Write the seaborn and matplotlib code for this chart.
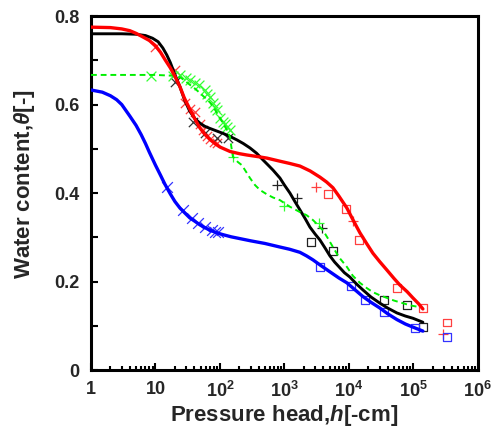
import matplotlib
matplotlib.use("Agg")
import matplotlib.pyplot as plt
import seaborn as sns
import pandas as pd
import numpy as np
from matplotlib.ticker import FixedLocator, FixedFormatter, LogLocator, NullFormatter, MultipleLocator

# ---- fitted curves ----
red_h = [1, 2, 3, 4, 5, 6, 8, 10, 12, 14, 17, 20, 24, 28, 34, 41, 49, 58, 70, 85, 100, 143,
         200, 262, 400, 535, 851, 1200, 1740, 2500, 3550, 4500, 5650, 7000, 9310, 12000,
         14830, 19000, 23550, 30000, 38810, 50000, 61800, 80000, 98200, 120000, 140300]
red_t = [0.775, 0.774, 0.771, 0.767, 0.761, 0.755, 0.745, 0.733, 0.718, 0.702, 0.683, 0.664,
         0.640, 0.615, 0.590, 0.567, 0.547, 0.533, 0.521, 0.511, 0.504, 0.494, 0.489, 0.486,
         0.482, 0.479, 0.472, 0.467, 0.461, 0.450, 0.436, 0.425, 0.412, 0.393, 0.366, 0.335,
         0.310, 0.285, 0.264, 0.245, 0.226, 0.207, 0.192, 0.177, 0.163, 0.150, 0.138]

black_h = [1, 3, 5, 7, 9, 11, 13, 15, 17, 20, 24, 28, 34, 41, 49, 58, 70, 90, 111, 143, 184,
           230, 292, 370, 464, 560, 664, 851, 1000, 1217, 1450, 1740, 2100, 2485, 3000, 3550,
           4300, 5070, 6000, 7250, 8500, 10370, 13000, 16490, 22000, 30270, 40000, 55500,
           75000, 98200, 140300]
black_t = [0.760, 0.760, 0.759, 0.756, 0.750, 0.742, 0.728, 0.712, 0.695, 0.668, 0.640, 0.612,
           0.585, 0.568, 0.558, 0.551, 0.546, 0.540, 0.535, 0.528, 0.520, 0.512, 0.502, 0.490,
           0.475, 0.463, 0.452, 0.434, 0.418, 0.400, 0.381, 0.362, 0.342, 0.323, 0.307, 0.294,
           0.275, 0.258, 0.244, 0.231, 0.220, 0.210, 0.195, 0.181, 0.165, 0.151, 0.140, 0.129,
           0.122, 0.117, 0.108]

green_h = [1, 10, 20, 24, 28, 34, 41, 49, 58, 70, 80, 90, 100, 111, 128, 143, 150, 159, 190,
           219, 262, 292, 350, 417, 535, 664, 851, 1217, 1740, 2200, 2767, 3300, 3951, 4700,
           5650, 7000, 9310, 11500, 14830, 19000, 23550, 30000, 38810, 50000, 68700, 90000,
           126200]
green_t = [0.667, 0.667, 0.665, 0.662, 0.655, 0.645, 0.636, 0.626, 0.616, 0.605, 0.593, 0.581,
           0.570, 0.558, 0.543, 0.527, 0.505, 0.482, 0.470, 0.463, 0.445, 0.434, 0.418, 0.407,
           0.397, 0.390, 0.384, 0.369, 0.357, 0.350, 0.339, 0.328, 0.316, 0.298, 0.278, 0.255,
           0.233, 0.213, 0.197, 0.185, 0.176, 0.169, 0.163, 0.157, 0.151, 0.146, 0.142]

blue_h = [1, 1.5, 2, 2.5, 3, 4, 5, 6, 7, 8, 10, 12, 14, 17, 20, 24, 29, 34, 41, 49, 58, 70,
          90, 111, 150, 204, 300, 500, 851, 1200, 1740, 2200, 2767, 3600, 5070, 7000, 9310,
          12500, 16490, 22000, 30270, 40000, 55500, 75000, 98200, 140300]
blue_t = [0.633, 0.628, 0.620, 0.611, 0.600, 0.574, 0.553, 0.532, 0.512, 0.493, 0.463, 0.440,
          0.420, 0.398, 0.381, 0.366, 0.354, 0.344, 0.336, 0.328, 0.322, 0.316, 0.310, 0.306,
          0.301, 0.297, 0.292, 0.286, 0.278, 0.273, 0.266, 0.258, 0.249, 0.237, 0.222, 0.208,
          0.197, 0.181, 0.166, 0.153, 0.140, 0.127, 0.114, 0.104, 0.097, 0.088]

# ---- measured points ----
red_x_h = [9.8, 20, 28.7, 34.3, 41, 49, 55, 62, 70, 80, 90]
red_x_t = [0.730, 0.678, 0.603, 0.590, 0.583, 0.555, 0.542, 0.530, 0.522, 0.515, 0.513]
red_p_h = [3078, 11530, 286600]
red_p_t = [0.414, 0.337, 0.081]
red_s_h = [4725, 8980, 14290, 55500, 140300, 330700]
red_s_t = [0.398, 0.364, 0.294, 0.185, 0.140, 0.108]

black_x_h = [20, 38, 58.5, 90, 133]
black_x_t = [0.651, 0.560, 0.536, 0.524, 0.524]
black_p_h = [765, 1560, 3813]
black_p_t = [0.418, 0.389, 0.321]
black_s_h = [2576, 5650, 34900, 79300, 140300]
black_s_t = [0.289, 0.269, 0.158, 0.147, 0.097]

green_x_h = [8.5, 18.7, 24, 30, 34.3, 41, 47, 58.5, 64, 70, 78, 85, 90, 100, 111, 120, 128, 143]
green_x_t = [0.664, 0.664, 0.667, 0.660, 0.655, 0.649, 0.645, 0.633, 0.625, 0.617, 0.603,
             0.595, 0.588, 0.569, 0.560, 0.555, 0.549, 0.542]
green_p_h = [159, 982, 3428]
green_p_t = [0.481, 0.371, 0.332]

blue_x_h = [15.1, 26.7, 36.7, 45.5, 58.5, 75, 83, 93]
blue_x_t = [0.414, 0.362, 0.344, 0.332, 0.323, 0.316, 0.312, 0.312]
blue_s_h = [3550, 10740, 17700, 34900, 105500, 330700]
blue_s_t = [0.233, 0.190, 0.158, 0.131, 0.095, 0.075]

xtick_vals = [1, 10, 100, 1000, 10000, 100000, 1000000]
xtick_labels = ["1", "10", r"$\mathbf{10^{2}}$", r"$\mathbf{10^{3}}$", r"$\mathbf{10^{4}}$",
                r"$\mathbf{10^{5}}$", r"$\mathbf{10^{6}}$"]
ytick_vals = [0, 0.2, 0.4, 0.6, 0.8]
ytick_labels = ["0", "0.2", "0.4", "0.6", "0.8"]

sns.set_style("white")
plt.rcParams["font.family"] = ["Liberation Sans", "DejaVu Sans"]
plt.rcParams["mathtext.fontset"] = "custom"
plt.rcParams["mathtext.rm"] = "Liberation Sans"
plt.rcParams["mathtext.bf"] = "Liberation Sans:bold"
plt.rcParams["mathtext.it"] = "Liberation Sans:italic:bold"

fig = plt.figure(figsize=(4.91, 4.29), dpi=100)
ax = fig.add_axes([0.1853, 0.1375, 0.788, 0.825])

RED = "#ff0000"
BLACK = "#000000"
GREEN = "#00f000"
BLUE = "#0000ff"
RED_L = "#ff4040"
GREEN_L = "#33ff33"
BLUE_L = "#3333ff"

def line(h, t, color, **kw):
    df = pd.DataFrame({"h": h, "t": t})
    sns.lineplot(data=df, x="h", y="t", ax=ax, color=color, sort=True, **kw)

def pts(h, t, color, marker, size, lw=0.9):
    df = pd.DataFrame({"h": h, "t": t})
    if marker == "s":
        sns.scatterplot(data=df, x="h", y="t", ax=ax, marker="s", s=size,
                        facecolors="none", edgecolor=color, linewidth=lw, zorder=4)
    else:
        sns.scatterplot(data=df, x="h", y="t", ax=ax, marker=marker, s=size,
                        color=color, linewidth=lw, zorder=4)

# points
pts(red_x_h, red_x_t, RED_L, "x", 45)
pts(red_p_h, red_p_t, RED_L, "+", 55)
pts(red_s_h, red_s_t, RED_L, "s", 28)
pts(black_x_h, black_x_t, "#333333", "x", 45)
pts(black_p_h, black_p_t, "#222222", "+", 55)
pts(black_s_h, black_s_t, "#222222", "s", 28)
pts(green_x_h, green_x_t, GREEN_L, "x", 50)
pts(green_p_h, green_p_t, GREEN_L, "+", 55)
pts(blue_x_h, blue_x_t, BLUE_L, "x", 60)
pts(blue_s_h, blue_s_t, BLUE_L, "s", 28)

# lines
line(black_h, black_t, BLACK, linewidth=2.1, zorder=5)
line(red_h, red_t, RED, linewidth=2.4, zorder=6)
line(green_h, green_t, GREEN, linewidth=1.4, zorder=5, linestyle=(0, (3, 2)))
line(blue_h, blue_t, BLUE, linewidth=2.4, zorder=6)

ax.set_xscale("log")
ax.set_xlim(1, 1e6)
ax.set_ylim(0, 0.8)

ax.xaxis.set_major_locator(FixedLocator(xtick_vals))
ax.xaxis.set_major_formatter(FixedFormatter(xtick_labels))
ax.xaxis.set_minor_locator(LogLocator(base=10, subs=np.arange(2, 10), numticks=20))
ax.xaxis.set_minor_formatter(NullFormatter())
ax.yaxis.set_major_locator(FixedLocator(ytick_vals))
ax.yaxis.set_major_formatter(FixedFormatter(ytick_labels))
ax.yaxis.set_minor_locator(MultipleLocator(0.1))

ax.tick_params(axis="both", which="both", direction="in", top=False, right=False,
               bottom=True, left=True, width=1.5, color="black")
ax.tick_params(axis="x", which="major", length=5, pad=8, labelsize=13)
ax.tick_params(axis="x", which="minor", length=3)
ax.tick_params(axis="y", which="both", length=5, pad=8, labelsize=13)
for lab in ax.get_xticklabels() + ax.get_yticklabels():
    lab.set_fontweight("bold")

for sp in ax.spines.values():
    sp.set_linewidth(2.2)
    sp.set_color("black")
    sp.set_visible(True)

ax.set_xlabel(r"Pressure head,$\mathit{h}$[-cm]", fontsize=16, fontweight="bold")
ax.set_ylabel(r"Water content,$\mathit{\theta}$[-]", fontsize=16, fontweight="bold")
ax.xaxis.set_label_coords(0.5, -0.093)
ax.yaxis.set_label_coords(-0.14, 0.525)

fig.savefig("out.png", dpi=100)
